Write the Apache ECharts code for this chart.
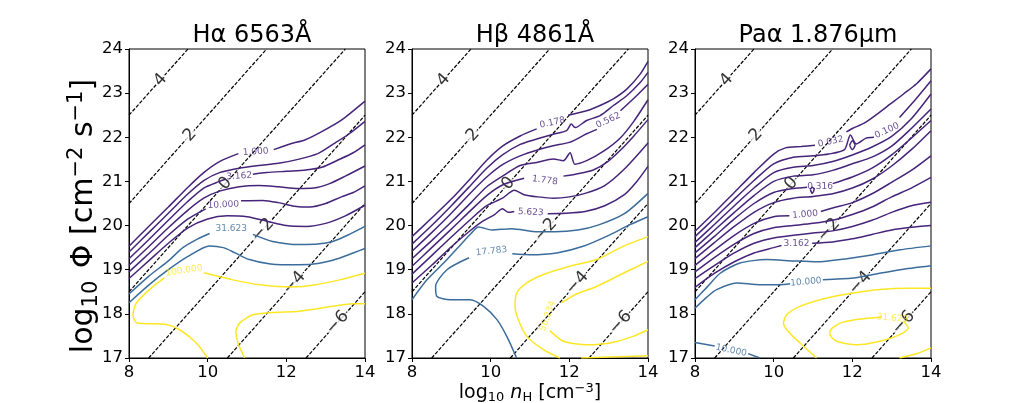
<!DOCTYPE html>
<html>
<head>
<meta charset="utf-8">
<script src="https://cdn.jsdelivr.net/npm/echarts@6/dist/echarts.min.js"></script>
<style>
  html, body { margin: 0; padding: 0; background: #fff; }
  #chart { width: 1035px; height: 403px; }
</style>
</head>
<body>
<div id="chart"></div>
<script>
// ---- data ----
const titles = ['Hα 6563Å', 'Hβ 4861Å', 'Paα 1.876μm'];
const xTicks = [8, 14, 2];   // min, max, step
const yTicks = [17, 24, 1];

// log U = const lines (same in every panel): endpoints
const uLines = [
  [[8, 22.5], [9.5, 24]],
  [[8, 20.5], [11.5, 24]],
  [[8, 18.5], [13.5, 24]],
  [[8.5, 17], [14, 22.5]],
  [[10.5, 17], [14, 20.5]],
  [[12.5, 17], [14, 18.5]]
];
const uLabels = [
  [8.8, 23.3, '4'], [9.55, 22.05, '2'], [10.45, 20.95, '0'],
  [11.4, 19.9, '−2'], [12.2, 18.7, '−4'], [13.3, 17.8, '−6']
];

// contours: [band, [segment, segment...]]
const haContours = [
  ['p', [[[8,19.53],[8.5,19.98],[9,20.42],[9.5,20.87],[9.9,21.2],[10.3,21.45],[10.78,21.63]],
         [[11.68,21.72],[12.0,21.82],[12.13,21.86],[12.47,21.94],[12.9,22.13],[13.4,22.39],[14,22.82]]]],
  ['p', [[[8,19.4],[8.5,19.84],[9,20.28],[9.5,20.72],[9.9,21.02],[10.3,21.2],[10.8,21.3],[11.3,21.36],[11.8,21.41],[12.3,21.5],[12.8,21.63],[13.2,21.85],[13.6,22.08],[14,22.36]]]],
  ['p', [[[8,19.25],[8.5,19.68],[9,20.12],[9.5,20.55],[9.9,20.85],[10.3,21.0],[10.45,21.05]],
         [[11.15,21.16],[11.5,21.2],[12.0,21.23],[12.5,21.26],[12.9,21.32],[13.3,21.48],[13.7,21.65],[14,21.83]]]],
  ['p', [[[8,19.1],[8.5,19.52],[9,19.95],[9.5,20.35],[9.9,20.62],[10.3,20.78],[10.8,20.88],[11.3,20.91],[11.8,20.88],[12.3,20.84],[12.7,20.85],[13.1,20.95],[13.5,21.12],[14,21.35]]]],
  ['p', [[[8,18.95],[8.5,19.36],[9,19.78],[9.5,20.15],[9.95,20.38]],
         [[10.85,20.56],[11.4,20.57],[11.8,20.52],[12.2,20.44],[12.6,20.42],[13.0,20.5],[13.4,20.65],[13.7,20.75],[14,20.9]]]],
  ['p', [[[8,18.8],[8.5,19.2],[9,19.6],[9.5,19.95],[10,20.15],[10.5,20.22],[11,20.2],[11.5,20.1],[12,20.0],[12.5,19.98],[13,20.05],[13.5,20.22],[14,20.46]]]],
  ['b', [[[8,18.45],[8.5,18.85],[9,19.2],[9.37,19.5],[9.75,19.7],[10.05,19.82]],
         [[11.15,19.8],[11.65,19.64],[12.33,19.57],[12.8,19.58],[13.18,19.64],[13.6,19.8],[14,19.98]]]],
  ['b', [[[8,18.25],[8.5,18.65],[9,19.0],[9.5,19.3],[10.05,19.54],[10.4,19.5],[10.7,19.38],[11.06,19.23],[11.6,19.13],[12.33,19.11],[12.8,19.14],[13.3,19.25],[13.7,19.38],[14,19.48]]]],
  ['y', [[[10.0,17.0],[9.71,17.34],[9.29,17.64],[8.95,17.76],[8.19,17.8],[8.1,17.98],[8.19,18.25],[8.52,18.55],[8.9,18.82]],
         [[9.9,18.93],[10.64,18.77],[11.32,18.66],[12.16,18.61],[12.75,18.66],[13.35,18.77],[14,18.92]]]],
  ['y', [[[10.94,17.0],[10.77,17.34],[10.72,17.6],[10.81,17.79],[11.15,17.98],[11.65,18.03],[12.33,18.06],[13.18,18.17],[13.69,18.23],[14,18.23]]]]
];
const haLabels = [
  [11.22, 21.67, '1.000', 'p', 4], [10.8, 21.12, '3.162', 'p', 3], [10.4, 20.47, '10.000', 'p', 3],
  [10.6, 19.93, '31.623', 'b', 0], [9.4, 18.98, '100.000', 'y', 9]
];

const hbContours = [
  ['p', [[[8,19.75],[8.5,20.17],[9,20.6],[9.5,21.08],[9.9,21.48],[10.3,21.8],[10.75,22.03],[11.17,22.19]],
         [[11.97,22.5],[12.44,22.6],[12.78,22.72],[13.12,22.87],[13.46,23.09],[13.8,23.43],[14,23.72]]]],
  ['p', [[[8,19.58],[8.5,20.0],[9,20.45],[9.5,20.92],[9.9,21.3],[10.3,21.6],[10.75,21.84],[11.17,21.96],[11.59,22.07],[11.93,22.15],[12.05,22.3],[12.15,22.22],[12.44,22.38],[12.78,22.49],[13.12,22.72],[13.46,22.94],[13.8,23.24],[14,23.47]]]],
  ['p', [[[8,19.42],[8.5,19.84],[9,20.28],[9.5,20.75],[9.9,21.1],[10.3,21.38],[10.75,21.58],[11.25,21.73],[11.59,21.81],[12.02,21.89],[12.44,22.08],[12.7,22.18]],
         [[13.3,22.6],[13.71,22.94],[14,23.2]]]],
  ['p', [[[8,19.25],[8.5,19.66],[9,20.08],[9.5,20.52],[9.9,20.88],[10.3,21.12],[10.75,21.36],[11.17,21.43],[11.59,21.51],[11.85,21.47],[12.02,21.65],[12.14,21.39],[12.44,21.47],[12.86,21.68],[13.29,21.98],[13.63,22.35],[14,22.85]]]],
  ['p', [[[8,19.08],[8.5,19.5],[9,19.92],[9.5,20.35],[9.9,20.68],[10.3,20.92],[10.85,21.07]],
         [[11.85,21.12],[12.18,21.17],[12.61,21.26],[12.95,21.43],[13.29,21.7],[13.63,22.02],[14,22.4]]]],
  ['p', [[[8,18.9],[8.5,19.32],[9,19.74],[9.5,20.15],[9.9,20.45],[10.3,20.62],[10.6,20.8],[10.85,20.7],[11.2,20.65],[11.6,20.62],[12.0,20.65],[12.4,20.73],[12.89,20.9],[13.4,21.28],[14,21.87]]]],
  ['p', [[[8,18.7],[8.5,19.1],[9,19.52],[9.5,19.9],[9.8,20.1],[10.1,20.25],[10.3,20.38],[10.45,20.3],[10.6,20.32]],
         [[11.45,20.27],[11.9,20.28],[12.4,20.32],[12.9,20.45],[13.4,20.7],[13.7,20.98],[14,21.34]]]],
  ['b', [[[8,18.32],[8.38,18.77],[8.89,19.23],[9.27,19.6],[9.5,19.82],[9.69,19.97],[10.03,19.9],[10.53,19.93],[11.2,19.86],[11.63,19.86],[12.22,19.9],[12.73,20.01],[13.4,20.27],[14,20.73]]]],
  ['b', [[[10.66,17.0],[10.41,17.49],[10.16,17.87],[9.82,18.17],[9.48,18.32],[8.97,18.32],[8.63,18.4],[8.6,18.62],[8.89,19.0],[9.45,19.27]],
         [[10.55,19.36],[11.0,19.34],[11.68,19.38],[12.35,19.53],[13.03,19.79],[13.54,20.02],[14,20.2]]]],
  ['y', [[[14,19.75],[13.37,19.53],[12.69,19.23],[12.01,19.08],[11.34,18.89],[10.92,18.7],[10.66,18.47],[10.62,18.17],[10.7,17.87],[10.92,17.49],[11.34,17.19],[11.76,17.0]]]],
  ['y', [[[14,19.19],[13.37,18.92],[12.69,18.62],[12.18,18.45],[11.8,18.25]],
         [[11.5,17.62],[11.85,17.38],[12.44,17.3],[13.03,17.34],[13.62,17.49],[14,17.64]]]],
  ['y', [[[12.3,17.0],[13.0,17.02],[14,17.05]]]]
];
const hbLabels = [
  [11.57, 22.33, '0.178', 'p', 12], [12.99, 22.38, '0.562', 'p', 25], [11.38, 21.02, '1.778', 'p', -8],
  [11.02, 20.3, '5.623', 'p', -3], [10.02, 19.42, '17.783', 'b', 6], [11.45, 17.95, '56.234', 'y', 70]
];

const paContours = [
  ['p', [[[8,19.87],[8.5,20.3],[9,20.75],[9.5,21.2],[10,21.62],[10.3,21.76],[10.7,21.79],[11.05,21.82]],
         [[11.85,22.12],[12.0,22.2],[12.3,22.32],[12.62,22.52],[12.96,22.75],[13.3,22.98],[13.64,23.22],[14,23.55]]]],
  ['p', [[[8,19.75],[8.5,20.17],[9,20.6],[9.5,21.02],[10,21.4],[10.5,21.55],[11,21.58],[11.4,21.62],[11.8,21.72],[11.95,22.05],[12.1,21.85],[12.35,21.98],[12.55,22.0]],
         [[13.2,22.45],[13.6,22.85],[14,23.28]]]],
  ['p', [[[11.93,21.82],[12.0,21.92],[12.07,21.82],[12.0,21.72],[11.93,21.82]]]],
  ['p', [[[8,19.62],[8.5,20.03],[9,20.45],[9.5,20.85],[10,21.2],[10.5,21.32],[11,21.36],[11.5,21.45],[12,21.6],[12.5,21.78],[13,22.02],[13.5,22.42],[14,22.98]]]],
  ['p', [[[8,19.5],[8.5,19.9],[9,20.3],[9.5,20.68],[10,21.0],[10.5,21.12],[11,21.15],[11.5,21.25],[12,21.4],[12.5,21.55],[13,21.8],[13.5,22.2],[14,22.64]]]],
  ['p', [[[8,19.38],[8.5,19.76],[9,20.15],[9.5,20.5],[10,20.75],[10.5,20.84],[10.85,20.87]],
         [[11.5,20.95],[12,21.1],[12.5,21.3],[13,21.6],[13.5,21.98],[14,22.38]]]],
  ['p', [[[10.93,20.82],[10.98,20.87],[11.03,20.82],[10.98,20.73],[10.93,20.82]]]],
  ['p', [[[8,19.25],[8.5,19.62],[9,19.98],[9.5,20.3],[10,20.52],[10.5,20.62],[11,20.66],[11.5,20.72],[12,20.85],[12.5,21.05],[13,21.35],[13.5,21.72],[14,22.15]]]],
  ['p', [[[8,19.1],[8.5,19.45],[9,19.78],[9.5,20.05],[10,20.2],[10.4,20.22]],
         [[11.2,20.32],[11.5,20.4],[12,20.52],[12.5,20.72],[13,20.98],[13.5,21.25],[14,21.58]]]],
  ['p', [[[8,18.95],[8.5,19.28],[9,19.58],[9.5,19.82],[10,19.95],[10.5,20.0],[11,20.05],[11.5,20.12],[12,20.25],[12.5,20.42],[13,20.65],[13.5,20.85],[14,21.09]]]],
  ['p', [[[8,18.8],[8.5,19.1],[9,19.38],[9.5,19.6],[10,19.72],[10.5,19.78],[11,19.83],[11.5,19.88],[12,19.98],[12.5,20.12],[13,20.3],[13.5,20.45],[14,20.53]]]],
  ['p', [[[8,18.6],[8.5,18.92],[9,19.18],[9.5,19.38],[10,19.5],[10.2,19.55]],
         [[10.98,19.6],[11.5,19.63],[12,19.7],[12.5,19.8],[13,19.9],[13.5,19.96],[14,20.0]]]],
  ['b', [[[8,18.32],[8.3,18.6],[8.64,18.92],[9.14,19.15],[9.82,19.23],[10.5,19.2],[11.09,19.18],[11.86,19.25],[12.53,19.34],[13.21,19.45],[14,19.54]]]],
  ['b', [[[8,18.13],[8.3,18.38],[8.55,18.55],[9.06,18.7],[9.65,18.66],[10.16,18.66],[10.42,18.68]],
         [[11.25,18.77],[12.03,18.81],[12.53,18.89],[13.21,19.0],[14,19.09]]]],
  ['b', [[[8,17.35],[8.5,17.27]], [[9.35,17.1],[9.65,17.0]]]],
  ['y', [[[11.09,17.0],[10.67,17.34],[10.37,17.6],[10.25,17.79],[10.33,17.98],[10.67,18.17],[11.35,18.36],[12.03,18.47],[12.7,18.55],[13.38,18.58],[14,18.58]]]],
  ['y', [[[12.75,17.93],[12.19,17.88],[11.69,17.79],[11.43,17.6],[11.43,17.53],[11.6,17.38],[12.11,17.3],[12.7,17.38],[13.21,17.53],[13.42,17.68],[13.3,17.83]]]],
  ['y', [[[13.2,17.0],[13.64,17.1],[14,17.23]]]]
];
const paLabels = [
  [11.45, 21.9, '0.032', 'p', 12], [12.88, 22.15, '0.100', 'p', 25], [11.18, 20.88, '0.316', 'p', 0],
  [10.8, 20.25, '1.000', 'p', 5], [10.58, 19.58, '3.162', 'p', 0], [10.82, 18.72, '10.000', 'b', 5],
  [8.92, 17.17, '10.000', 'b', -12], [13.02, 17.9, '31.623', 'y', -5]
];

// ---- styles / layout ----
const bandColor = { p: '#46247a', b: '#3b6c9b', y: '#fde725' };
const font = 'DejaVu Sans';
const grids = [129, 412, 695].map(l => ({
  left: l, top: 49, width: 236, height: 309,
  show: true, borderColor: '#000', borderWidth: 1, backgroundColor: 'transparent'
}));

const panels = [
  [haContours, haLabels],
  [hbContours, hbLabels],
  [paContours, paLabels]
];

const axisBase = {
  type: 'value',
  axisLine: { show: true, onZero: false, lineStyle: { color: '#000', width: 1 } },
  axisTick: { show: true, length: 4, lineStyle: { color: '#000' } },
  axisLabel: { color: '#000', fontSize: 16.5, fontFamily: font, margin: 6 },
  splitLine: { show: false }
};

const xAxes = [], yAxes = [], series = [];
panels.forEach(([contours, labels], i) => {
  xAxes.push(Object.assign({ gridIndex: i, min: xTicks[0], max: xTicks[1], interval: xTicks[2] }, axisBase));
  yAxes.push(Object.assign({ gridIndex: i, min: yTicks[0], max: yTicks[1], interval: yTicks[2] }, axisBase));

  uLines.forEach(seg => series.push({
    type: 'line', xAxisIndex: i, yAxisIndex: i, data: seg, symbol: 'none', silent: true, z: 1,
    lineStyle: { color: '#000', width: 1.2, type: [3.7, 1.6] }
  }));
  series.push({
    type: 'scatter', xAxisIndex: i, yAxisIndex: i, symbolSize: 0, silent: true, z: 2,
    data: uLabels.map(([x, y, t]) => ({ value: [x, y], label: { formatter: t } })),
    label: {
      show: true, position: 'inside', rotate: 48, color: '#000', fontSize: 17,
      fontFamily: font, backgroundColor: '#fff', padding: [0, 1]
    }
  });

  contours.forEach(([band, segs]) => segs.forEach(seg => series.push({
    type: 'line', xAxisIndex: i, yAxisIndex: i, data: seg, symbol: 'none', silent: true, z: 3,
    smooth: 0.25, lineStyle: { color: bandColor[band], width: 1.5 }
  })));
  series.push({
    type: 'scatter', xAxisIndex: i, yAxisIndex: i, symbolSize: 0, silent: true, z: 4,
    data: labels.map(([x, y, t, band, rot]) => ({
      value: [x, y],
      label: { formatter: t, color: bandColor[band], rotate: rot }
    })),
    label: { show: true, position: 'inside', fontSize: 9, fontFamily: font }
  });
});

const option = {
  backgroundColor: '#fff',
  animation: false,
  title: titles.map((t, i) => ({
    text: t, left: [247, 530, 813][i], top: 19, textAlign: 'center',
    textStyle: { fontSize: 24, fontWeight: 'normal', fontFamily: font, color: '#000' }
  })),
  grid: grids,
  xAxis: xAxes,
  yAxis: yAxes,
  series: series,
  graphic: [
    {
      type: 'text', x: 84, y: 216, rotation: Math.PI / 2,
      style: {
        text: 'log{sub|10} Φ [cm{sup|−2} s{sup|−1}]',
        fill: '#000', font: '30px "DejaVu Sans"', align: 'center', verticalAlign: 'middle',
        rich: {
          sub: { fontSize: 21, fontFamily: font, padding: [15, 3, 0, 0] },
          sup: { fontSize: 21, fontFamily: font, padding: [0, 0, 15, 0] }
        }
      }
    },
    {
      type: 'text', x: 530, y: 393,
      style: {
        text: 'log{sub|10} {it|n}{sub|H} [cm{sup|−3}]',
        fill: '#000', font: '19px "DejaVu Sans"', align: 'center', verticalAlign: 'middle',
        rich: {
          sub: { fontSize: 13, fontFamily: font, padding: [9, 0, 0, 0] },
          sup: { fontSize: 13, fontFamily: font, padding: [0, 0, 9, 0] },
          it: { fontSize: 19, fontFamily: font, fontStyle: 'italic' }
        }
      }
    }
  ]
};

const chart = echarts.init(document.getElementById('chart'));
chart.setOption(option);
</script>
</body>
</html>
